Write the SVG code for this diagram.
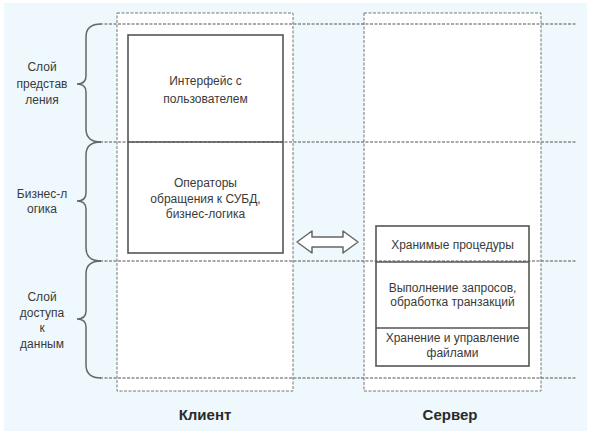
<svg xmlns="http://www.w3.org/2000/svg" width="589" height="434" viewBox="0 0 589 434">
<style>
.t{font-family:"Liberation Sans",Arial,sans-serif;font-size:12px;fill:#3a3a3a;text-anchor:middle}
.b{font-family:"Liberation Sans",Arial,sans-serif;font-size:15px;font-weight:bold;fill:#2a2a2a;text-anchor:middle}
.col{fill:#ffffff;stroke:#777;stroke-width:1;stroke-dasharray:3 1.5}
.row{fill:none;stroke:#555;stroke-width:1.2;stroke-dasharray:3 1.5}
.box{fill:none;stroke:#555;stroke-width:1.6}
.brace{fill:none;stroke:#666;stroke-width:1.5}
</style>
<rect x="0" y="0" width="589" height="434" fill="#ffffff"/>
<rect x="4" y="3" width="583" height="428" fill="#eef8fd"/>
<g id="client-column"><rect class="col" x="117" y="13" width="176" height="378"/></g>
<g id="server-column"><rect class="col" x="364" y="13" width="177" height="378"/></g>
<g id="connectors">
<line class="row" x1="100" y1="24" x2="577" y2="24"/>
<line class="row" x1="100" y1="142" x2="577" y2="142"/>
<line class="row" x1="100" y1="261" x2="577" y2="261"/>
<line class="row" x1="100" y1="378" x2="577" y2="378"/>
<polygon points="297,242 312,231 312,237 343,237 343,231 358,242 343,253 343,247 312,247 312,253" fill="#ffffff" stroke="#666" stroke-width="1.5" stroke-linejoin="round"/>
</g>
<g id="brace-presentation">
<path class="brace" d="M101,24 Q86,24 86,37 L86,76 Q86,84 77,84 Q86,84 86,92 L86,129 Q86,142 101,142"/>
<text class="t" x="42" y="71">Слой</text>
<text class="t" x="42" y="88">представ</text>
<text class="t" x="42" y="104">ления</text>
</g>
<g id="brace-business">
<path class="brace" d="M101,142 Q86,142 86,155 L86,193 Q86,201 77,201 Q86,201 86,209 L86,248 Q86,261 101,261"/>
<text class="t" x="42" y="198">Бизнес-л</text>
<text class="t" x="42" y="213">огика</text>
</g>
<g id="brace-data">
<path class="brace" d="M101,261 Q86,261 86,274 L86,311 Q86,319 77,319 Q86,319 86,327 L86,365 Q86,378 101,378"/>
<text class="t" x="42" y="301">Слой</text>
<text class="t" x="42" y="317">доступа</text>
<text class="t" x="42" y="332">к</text>
<text class="t" x="42" y="348">данным</text>
</g>
<g id="client-box">
<rect class="box" x="128" y="35" width="155" height="218"/>
<line class="box" x1="128" y1="142" x2="283" y2="142"/>
<text class="t" x="205.5" y="85">Интерфейс с</text>
<text class="t" x="205.5" y="103">пользователем</text>
<text class="t" x="205.5" y="187">Операторы</text>
<text class="t" x="205.5" y="203">обращения к СУБД,</text>
<text class="t" x="205.5" y="218">бизнес-логика</text>
</g>
<g id="server-box">
<rect class="box" x="376" y="226" width="153" height="140"/>
<line class="box" x1="376" y1="262" x2="529" y2="262"/>
<line class="box" x1="376" y1="328" x2="529" y2="328"/>
<text class="t" x="452.5" y="249">Хранимые процедуры</text>
<text class="t" x="452.5" y="292">Выполнение запросов,</text>
<text class="t" x="452.5" y="306">обработка транзакций</text>
<text class="t" x="452.5" y="342">Хранение и управление</text>
<text class="t" x="452.5" y="357">файлами</text>
</g>
<g id="labels">
<text class="b" x="205" y="420">Клиент</text>
<text class="b" x="450" y="420">Сервер</text>
</g>
</svg>
